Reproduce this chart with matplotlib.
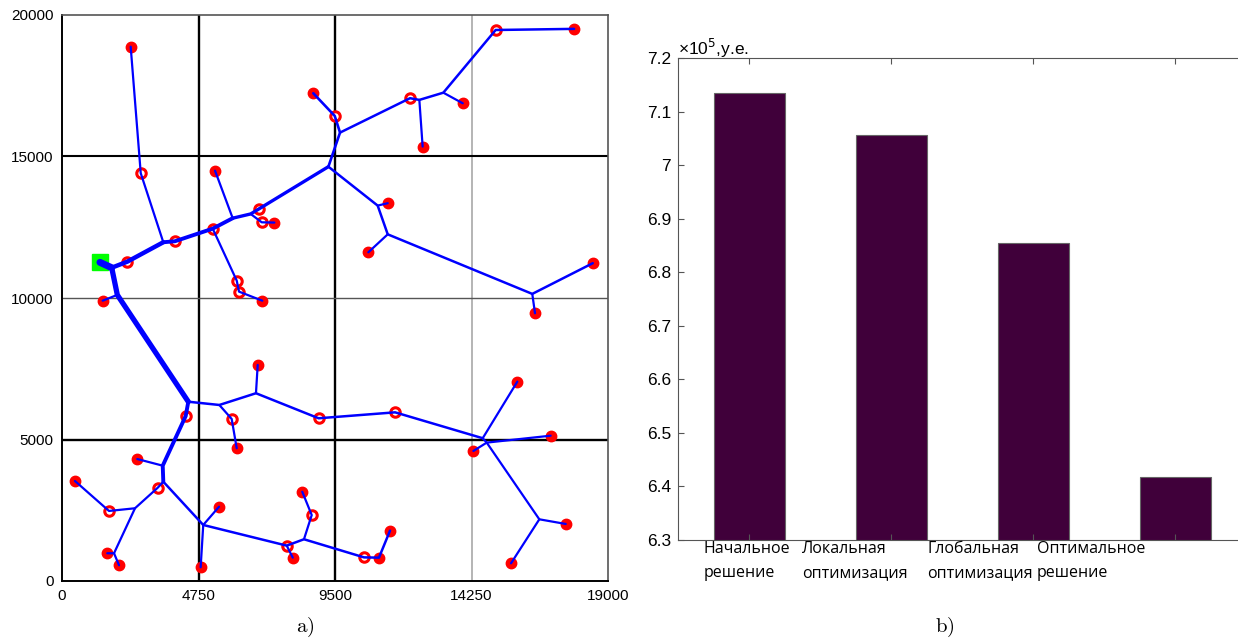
import numpy as np
import matplotlib
matplotlib.use('Agg')
import matplotlib.pyplot as plt
from matplotlib.ticker import FormatStrFormatter

# --- DATA: network (panel a) ---
source_xy = (1320, 11260)

filled_x = [2390, 5325, 7390, 6970, 1415, 8745, 12550, 13945, 17820, 11335,
            10660, 18470, 16460, 6080, 6810, 15845, 17005, 14315, 17530, 15625,
            2620, 450, 1575, 1985, 5465, 4825, 8030, 8360, 11030, 11415]
filled_y = [18880, 14500, 12665, 9905, 9905, 17235, 15350, 16880, 19510, 13350,
            11615, 11230, 9460, 4690, 7635, 7045, 5135, 4595, 2015, 625,
            4310, 3535, 980, 555, 2625, 485, 825, 3155, 825, 1780]

ring_x = [2740, 2275, 3930, 5245, 6865, 6950, 6080, 6160, 9490, 12110,
          15090, 8930, 11590, 5905, 4305, 3330, 1635, 7820, 8690, 10510]
ring_y = [14410, 11285, 12005, 12450, 13155, 12675, 10615, 10225, 16435, 17060,
          19470, 5750, 5960, 5725, 5830, 3295, 2475, 1250, 2330, 835]

# pipe routes (polylines through nodes and junctions)
edges = [
    [(1320, 11260), (1730, 11070)],
    [(1730, 11070), (1925, 10110), (4395, 6335)],
    [(1730, 11070), (2275, 11285), (3525, 11970)],
    [(3525, 11970), (3930, 12005), (5245, 12450), (5940, 12820)],
    [(5940, 12820), (6565, 12970), (6865, 13155), (9270, 14640)],
    [(3525, 11970), (2740, 14410), (2390, 18880)],
    [(5940, 12820), (5325, 14500)],
    [(6565, 12970), (6950, 12675), (7390, 12665)],
    [(5245, 12450), (6080, 10615), (6160, 10225), (6970, 9905)],
    [(1925, 10110), (1415, 9905)],
    [(9270, 14640), (9675, 15845), (9490, 16435), (8745, 17235)],
    [(9675, 15845), (12110, 17060), (12435, 17000), (13270, 17255),
     (15090, 19470), (17820, 19510)],
    [(12435, 17000), (12550, 15350)],
    [(13270, 17255), (13945, 16880)],
    [(9270, 14640), (10985, 13265), (11335, 12250), (16365, 10145), (18470, 11230)],
    [(10985, 13265), (11335, 13350)],
    [(11335, 12250), (10660, 11615)],
    [(16365, 10145), (16460, 9460)],
    [(4395, 6335), (5475, 6220), (6750, 6635), (8930, 5750), (11590, 5960),
     (14640, 5045)],
    [(5475, 6220), (5905, 5725), (6080, 4690)],
    [(6750, 6635), (6810, 7635)],
    [(14640, 5045), (15845, 7045)],
    [(14640, 5045), (14780, 4890), (16610, 2180), (17530, 2015)],
    [(14315, 4595), (14780, 4890), (17005, 5135)],
    [(16610, 2180), (15625, 625)],
    [(4395, 6335), (4305, 5830), (3505, 4075), (3525, 3510)],
    [(3505, 4075), (2620, 4310)],
    [(3525, 3510), (3330, 3295), (2540, 2570), (1635, 2475), (450, 3535)],
    [(2540, 2570), (1810, 980), (1575, 980)],
    [(1810, 980), (1985, 555)],
    [(3525, 3510), (4915, 1980), (7820, 1250), (8420, 1475), (10510, 835),
     (11030, 825), (11415, 1780)],
    [(4915, 1980), (5465, 2625)],
    [(4915, 1980), (4825, 485)],
    [(7820, 1250), (8030, 825)],
    [(8420, 1475), (8690, 2330), (8360, 3155)],
]
edge_widths = [5.0, 3.8, 3.2, 2.8, 2.4, 1.6, 1.6, 1.6, 1.6, 1.6,
               1.9, 1.8, 1.6, 1.6, 1.8, 1.6, 1.6, 1.6, 1.8, 1.6,
               1.6, 1.6, 1.6, 1.6, 1.6, 2.8, 1.6, 1.6, 1.6, 1.6,
               1.8, 1.6, 1.6, 1.6, 1.6]

x_ticks = [0, 4750, 9500, 14250, 19000]
y_ticks = [0, 5000, 10000, 15000, 20000]
x_grid = [4750, 9500, 14250]
y_grid = [5000, 10000, 15000]

# --- DATA: costs (panel b) ---
categories = ['Начальное\nрешение', 'Локальная\nоптимизация',
              'Глобальная\nоптимизация', 'Оптимальное\nрешение']
costs = [7.135, 7.057, 6.855, 6.417]   # x 10^5 y.e.
cost_ticks = [6.3, 6.4, 6.5, 6.6, 6.7, 6.8, 6.9, 7.0, 7.1, 7.2]

W, H = 1238, 639
fig = plt.figure(figsize=(W / 100, H / 100), dpi=100)

# ---------------- panel a ----------------
ax1 = fig.add_axes([62 / W, 58 / H, 546 / W, 566 / H])
ax1.set_xlim(0, 19000)
ax1.set_ylim(0, 20000)

grid_x_style = [('black', 1.7), ('black', 1.7), ('#a0a0a0', 1.1)]
grid_y_style = [('black', 1.7), ('#555555', 1.0), ('black', 1.5)]
for gx, (c, lw) in zip(x_grid, grid_x_style):
    ax1.axvline(gx, color=c, lw=lw, zorder=1)
for gy, (c, lw) in zip(y_grid, grid_y_style):
    ax1.axhline(gy, color=c, lw=lw, zorder=1)

ax1.plot(*source_xy, marker='s', ms=12, color='#00ff00', mec='#00ff00', zorder=2)
ax1.plot(filled_x, filled_y, 'o', ms=7.5, color='#ff0000', mec='#ff0000', zorder=3)
ax1.plot(ring_x, ring_y, 'o', ms=6.8, mfc='white', mec='#ff0000', mew=2.2, zorder=3)

for path, lw in zip(edges, edge_widths):
    xs = [p[0] for p in path]
    ys = [p[1] for p in path]
    ax1.plot(xs, ys, color='#0000ff', lw=lw, solid_capstyle='round',
             solid_joinstyle='round', zorder=4)

ax1.set_xticks(x_ticks)
ax1.set_yticks(y_ticks)
ax1.tick_params(length=0, pad=6, labelsize=11)
for lab in ax1.get_xticklabels() + ax1.get_yticklabels():
    lab.set_fontfamily('Liberation Sans')
for side in ['left', 'bottom']:
    ax1.spines[side].set_color('black')
    ax1.spines[side].set_linewidth(1.4)
for side in ['top', 'right']:
    ax1.spines[side].set_color('#555555')
    ax1.spines[side].set_linewidth(1.2)

fig.text(305 / W, 1 - 627 / H, r'$\mathrm{a)}$', math_fontfamily='cm',
         fontsize=15, ha='center', va='center')

# ---------------- panel b ----------------
ax2 = fig.add_axes([678 / W, 99 / H, 568 / W, 482 / H])
pos = np.arange(1, len(costs) + 1)
ax2.bar(pos, costs, width=0.5, color='#40003a', edgecolor='#666666', lw=0.8)
ax2.set_xlim(0.5, 4.5)
ax2.set_ylim(6.3, 7.2)
ax2.set_yticks(cost_ticks)
ax2.yaxis.set_major_formatter(FormatStrFormatter('%g'))
ax2.set_xticks(pos)
ax2.set_xticklabels([])
ax2.tick_params(direction='in', length=4, top=True, right=True,
                labelsize=12.5, pad=5, color='#555555')
for lab in ax2.get_yticklabels():
    lab.set_fontfamily('Liberation Sans')
for side in ax2.spines:
    ax2.spines[side].set_color('#555555')

# category labels are placed by hand, left-aligned under bars
label_x = [0.678, 1.371, 2.254, 3.026]
tr = ax2.get_xaxis_transform()
for lx, text in zip(label_x, categories):
    ax2.text(lx, -0.002, text, transform=tr, ha='left', va='top',
             fontsize=11.5, fontfamily='Open Sans', linespacing=1.65)

ax2.text(0.0, 1.007, r'×10$^{5}$,y.e.', transform=ax2.transAxes,
         ha='left', va='baseline', fontsize=12.5, fontfamily='Liberation Sans',
         math_fontfamily='dejavusans')

fig.text(945 / W, 1 - 627 / H, r'$\mathrm{b)}$', math_fontfamily='cm',
         fontsize=15, ha='center', va='center')

fig.savefig('out.png', dpi=100)
